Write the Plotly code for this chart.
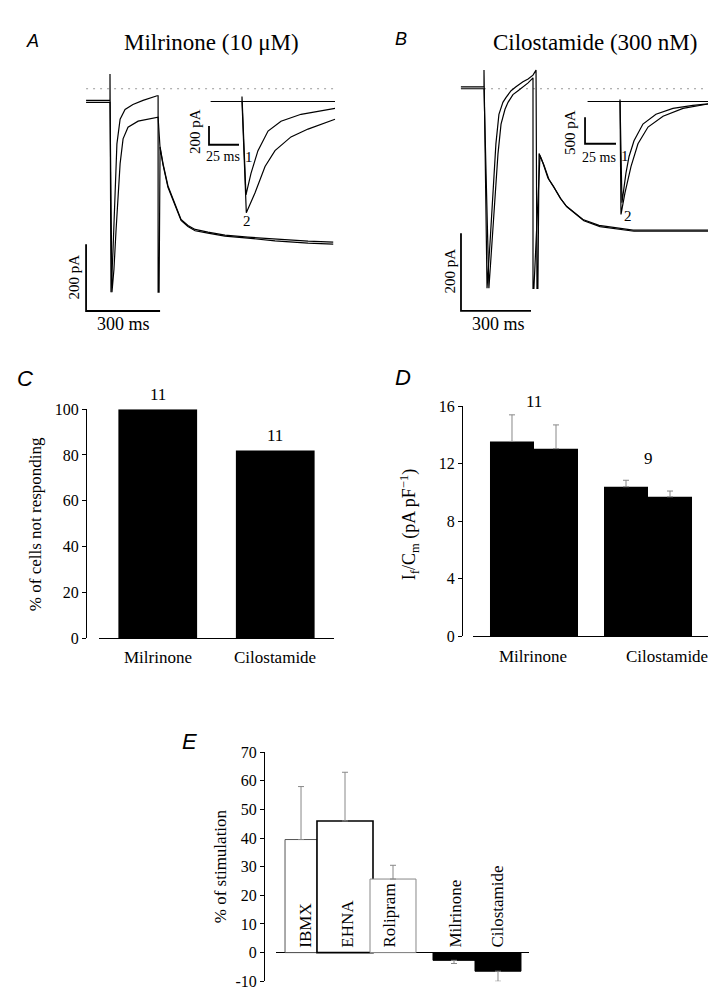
import plotly.graph_objects as go

W, H = 716, 996
SERIF = "Liberation Serif, Times New Roman, serif"
SANS = "Liberation Sans, Arial, sans-serif"

# ---------------- data ----------------
# Panel A  (Milrinone 10 uM): time (ms) / current (pA), traces 1 and 2
a_t1 = [-97, 0, 0, 4, 12, 20, 28, 41, 61, 93, 134, 191, 195, 195, 199, 203, 215, 235,
        264, 288, 316, 345, 397, 466, 559, 669, 803, 905]
a_i1 = [-35, -35, 44, -609, -488, -312, -165, -91, -62, -47, -35, -21, -21, -609, -609,
        -174, -224, -291, -347, -391, -409, -421, -429, -438, -444, -450, -456, -459]
a_t2 = [-97, 0, 8, 16, 24, 32, 41, 53, 73, 114, 154, 191, 195, 203, 215, 235, 264, 288,
        316, 345, 397, 466, 559, 669, 803, 905]
a_i2 = [-41, -41, -609, -540, -430, -330, -224, -150, -115, -97, -91, -85, -85, -178,
        -228, -295, -350, -394, -412, -425, -432, -441, -447, -455, -462, -465]
a_zero_t = [-97, 905]
# Panel A inset
ai_t1 = [-26, 0, 0, 3.3, 7.5, 13.3, 21.7, 32.5, 49.2, 77.5]
ai_i1 = [0, 0, 53, -1000, -769, -526, -316, -211, -137, -74]
ai_t2 = [0, 3.6, 10.8, 19.2, 27.5, 40.8, 55, 77.5]
ai_i2 = [0, -1190, -979, -695, -526, -379, -295, -190]
ai_base_t = [-26, 77.5]

# Panel B  (Cilostamide 300 nM)
b_t1 = [-99, 0, 0, 13, 26, 39, 51, 64, 81, 94, 116, 137, 167, 189, 210, 223, 227, 231,
        236, 253, 274, 296, 326, 351, 386, 424, 493, 574, 639, 789, 964]
b_i1 = [5, 5, 48, -514, -395, -268, -142, -66, -35, -23, -5, 5, 18, 25, 35, 48, -514,
        -514, -167, -192, -230, -250, -281, -301, -319, -337, -352, -359, -364, -364, -364]
b_t2 = [-99, 0, 21, 34, 47, 60, 73, 90, 103, 124, 146, 167, 189, 210, 210, 214, 240,
        257, 278, 300, 330, 355, 390, 428, 497, 578, 643, 793, 964]
b_i2 = [0, 0, -514, -395, -268, -167, -91, -53, -35, -15, -5, 5, 15, 28, -514, -514,
        -172, -197, -233, -254, -284, -304, -322, -340, -355, -362, -367, -367, -367]
b_zero_t = [0, 964]
# Panel B inset
bi_t1 = [-26, 0, 0, 1.6, 4.8, 7.3, 11.3, 18.5, 29, 42.7, 58.8, 73.3]
bi_i1 = [0, 0, 37, -1906, -1350, -1036, -740, -425, -240, -130, -74, -37]
bi_t2 = [0, 0.8, 4, 8.9, 14.5, 22.6, 34.7, 50.8, 73.3]
bi_i2 = [0, -2128, -1720, -1221, -796, -481, -277, -130, -37]
bi_base_t = [-26, 73.3]

# scale bars: corner (ms, pA) and lengths (ms, pA)
scale_a = [-97, -665, 300, 200]
scale_ai = [-27.5, -463, 25, 200]
scale_b = [-98.6, -572, 300, 200]
scale_bi = [-28.2, -796, 25, 500]

# Panel C
c_cats = ["Milrinone", "Cilostamide"]
c_vals = [100, 82]
c_n = [11, 11]
c_ticks = [0, 20, 40, 60, 80, 100]

# Panel D
d_cats = ["Milrinone", "Cilostamide"]
d_vals1 = [13.55, 10.4]
d_err1 = [1.85, 0.45]
d_vals2 = [13.05, 9.7]
d_err2 = [1.65, 0.4]
d_n = [11, 9]
d_ticks = [0, 4, 8, 12, 16]

# Panel E
e_cats = ["IBMX", "EHNA", "Rolipram", "Milrinone", "Cilostamide"]
e_vals = [39.5, 46, 25.7, -2.7, -6.5]
e_err = [18.5, 17, 4.8, 1.1, 3.5]
e_ticks = [-10, 0, 10, 20, 30, 40, 50, 60, 70]
e_ticktext = ["-10", "0", "10", "20", "30", "40", "50", "60", "70"]

# ---------------- helpers ----------------
def dx(p0, p1):
    return [p0 / W, p1 / W]

def dy(p0, p1):
    return [1 - p1 / H, 1 - p0 / H]

def rng_x(p0, p1, origin, ppu):
    return [(p0 - origin) / ppu, (p1 - origin) / ppu]

def rng_y(p0, p1, origin, ppu):
    return [(origin - p1) / ppu, (origin - p0) / ppu]

fig = go.Figure()

def line(x, y, ax, color="black", width=1.2, dash=None):
    fig.add_trace(go.Scatter(x=x, y=y, mode="lines", xaxis="x" + ax, yaxis="y" + ax,
                             line=dict(color=color, width=width, dash=dash),
                             hoverinfo="skip", showlegend=False))

def scalebar(sb, ax):
    t0, i0, dt, di = sb
    line([t0, t0, t0 + dt], [i0 + di, i0, i0], ax, width=1.8)

DOT = "2px,5px"
# A
line(a_zero_t, [0, 0], "", color="#999", width=1, dash=DOT)
line(a_t2, a_i2, "")
line(a_t1, a_i1, "")
scalebar(scale_a, "")
# A inset
line(ai_base_t, [0, 0], "2")
line(ai_t2, ai_i2, "2")
line(ai_t1, ai_i1, "2")
scalebar(scale_ai, "2")
# B
line(b_zero_t, [0, 0], "3", color="#999", width=1, dash=DOT)
line(b_t2, b_i2, "3")
line(b_t1, b_i1, "3")
scalebar(scale_b, "3")
# B inset
line(bi_base_t, [0, 0], "4")
line(bi_t2, bi_i2, "4")
line(bi_t1, bi_i1, "4")
scalebar(scale_bi, "4")

# C
fig.add_trace(go.Bar(x=c_cats, y=c_vals, width=0.67, xaxis="x5", yaxis="y5",
                     marker=dict(color="black", line=dict(width=0)), showlegend=False))
# D
for vals, errs in ((d_vals1, d_err1), (d_vals2, d_err2)):
    fig.add_trace(go.Bar(x=d_cats, y=vals, xaxis="x6", yaxis="y6",
                         marker=dict(color="black", line=dict(width=0)),
                         error_y=dict(type="data", array=errs, arrayminus=[0] * len(errs),
                                      symmetric=False, color="#888", thickness=1, width=3),
                         showlegend=False))
# E
e_plus = [e if v >= 0 else 0 for v, e in zip(e_vals, e_err)]
e_minus = [0 if v >= 0 else e for v, e in zip(e_vals, e_err)]
fig.add_trace(go.Bar(x=list(range(len(e_cats))), y=e_vals, xaxis="x7", yaxis="y7",
                     offset=[-0.333, -0.667, -0.5625, -0.25, -0.375],
                     width=[0.667, 1.167, 0.958, 0.875, 0.958],
                     marker=dict(color=["white", "white", "white", "black", "black"],
                                 line=dict(color=["#555", "black", "#888", "black", "black"],
                                           width=[1, 1.6, 1, 1, 1])),
                     error_y=dict(type="data", array=e_plus, arrayminus=e_minus,
                                  symmetric=False, color="#888", thickness=1, width=3),
                     showlegend=False))

hidden = dict(visible=False, fixedrange=True)
val_axis = dict(showline=True, linecolor="black", linewidth=1, ticks="outside", ticklen=4,
                tickwidth=1, tickcolor="black", showgrid=False, zeroline=False,
                tickfont=dict(family=SERIF, size=16, color="black"), anchor="free")
cat_axis = dict(showline=True, linecolor="black", linewidth=1, ticks="", showgrid=False,
                showticklabels=False, zeroline=False)

fig.update_layout(
    width=W, height=H, margin=dict(l=0, r=0, t=0, b=0),
    paper_bgcolor="white", plot_bgcolor="rgba(0,0,0,0)",
    barmode="group", bargap=0.228, bargroupgap=0,
    showlegend=False,
    xaxis=dict(hidden, domain=dx(60, 340), range=rng_x(60, 340, 102, 74 / 300), anchor="y"),
    yaxis=dict(hidden, domain=dy(40, 330), range=rng_y(40, 330, 74, 68 / 200), anchor="x"),
    xaxis2=dict(hidden, domain=dx(190, 335), range=rng_x(190, 335, 234, 30 / 25), anchor="y2"),
    yaxis2=dict(hidden, domain=dy(70, 220), range=rng_y(70, 220, 87, 19 / 200), anchor="x2"),
    xaxis3=dict(hidden, domain=dx(430, 715), range=rng_x(430, 715, 476, 70 / 300), anchor="y3"),
    yaxis3=dict(hidden, domain=dy(40, 330), range=rng_y(40, 330, 74, 79 / 200), anchor="x3"),
    xaxis4=dict(hidden, domain=dx(560, 715), range=rng_x(560, 715, 612, 31 / 25), anchor="y4"),
    yaxis4=dict(hidden, domain=dy(70, 220), range=rng_y(70, 220, 87, 27 / 500), anchor="x4"),
    xaxis5=dict(cat_axis, domain=dx(91, 326), range=[-0.5, 1.5], anchor="y5", type="category"),
    yaxis5=dict(val_axis, domain=dy(400, 633), range=[0, 100], position=78 / W,
                tickvals=c_ticks),
    xaxis6=dict(cat_axis, domain=dx(465, 701), range=[-0.535, 1.535], anchor="y6",
                type="category"),
    yaxis6=dict(val_axis, domain=dy(397, 631), range=[0, 16], position=454 / W,
                tickvals=d_ticks),
    xaxis7=dict(cat_axis, domain=dx(268, 521), range=[-0.521, 4.75], anchor="y7",
                showline=False, type="linear", showticklabels=False),
    yaxis7=dict(val_axis, domain=dy(749, 982), range=[-10, 70], position=256 / W,
                tickvals=e_ticks, ticktext=e_ticktext, zeroline=True,
                zerolinecolor="black", zerolinewidth=1),
)

ann = []

def txt(text, x, y, size, family=SERIF, angle=0):
    ann.append(dict(text=text, x=x / W, y=1 - y / H, xref="paper", yref="paper",
                    showarrow=False, textangle=angle, xanchor="center", yanchor="middle",
                    font=dict(family=family, size=size, color="black")))

# panel letters and titles
txt("<i>A</i>", 24, 25, 18, SANS)
txt("<i>B</i>", 393, 23, 18, SANS)
txt("<i>C</i>", 17, 369, 22, SANS)
txt("<i>D</i>", 395, 368, 22, SANS)
txt("<i>E</i>", 181, 738, 22, SANS)
txt("Milrinone (10 \u03bcM)", 203, 27, 23)
txt("Cilostamide (300 nM)", 587, 27, 23)
# scale bar labels
txt("200 pA", 66, 266, 15, angle=-90)
txt("300 ms", 115, 313, 18)
txt("200 pA", 187, 118, 15, angle=-90)
txt("25 ms", 215, 143, 14)
txt("1", 241, 143, 15)
txt("2", 239, 209, 15)
txt("200 pA", 442, 260, 15, angle=-90)
txt("300 ms", 490, 313, 18)
txt("500 pA", 562, 119, 15, angle=-90)
txt("25 ms", 591, 144, 14)
txt("1", 617, 142, 15)
txt("2", 620, 203, 15)
# axis titles
txt("% of cells not responding", 27, 517, 17, angle=-90)
txt("I<sub>f</sub>/C<sub>m</sub> (pA pF<sup>\u22121</sup>)", 401, 518, 18, angle=-90)
txt("% of stimulation", 212, 865, 17, angle=-90)

# category labels
for i, c in enumerate(c_cats):
    ann.append(dict(text=c, x=i, y=1 - 653 / H, xref="x5", yref="paper", showarrow=False,
                    font=dict(family=SERIF, size=17, color="black")))
d_label_shift = [-1, 19]
for i, c in enumerate(d_cats):
    ann.append(dict(text=c, x=i, y=1 - 652 / H, xref="x6", yref="paper", showarrow=False,
                    xshift=d_label_shift[i], font=dict(family=SERIF, size=17, color="black")))
# n labels
for i, n in enumerate(c_n):
    ann.append(dict(text=str(n), x=i, y=c_vals[i], xref="x5", yref="y5", showarrow=False,
                    yshift=15, font=dict(family=SERIF, size=17, color="black")))
d_n_shift = [13, 22]
for i, n in enumerate(d_n):
    top = max(d_vals1[i] + d_err1[i], d_vals2[i] + d_err2[i])
    ann.append(dict(text=str(n), x=i, y=top, xref="x6", yref="y6", showarrow=False,
                    yshift=d_n_shift[i], font=dict(family=SERIF, size=17, color="black")))
# E bar labels (vertical)
e_label_shift = [5, -1, -7, 11, 5]
for i, c in enumerate(e_cats):
    ann.append(dict(text=c, x=i, y=0, xref="x7", yref="y7", showarrow=False,
                    textangle=-90, xanchor="center", yanchor="bottom", yshift=3,
                    xshift=e_label_shift[i], font=dict(family=SERIF, size=17, color="black")))

fig.update_layout(annotations=ann)
fig.write_html("out.html")
